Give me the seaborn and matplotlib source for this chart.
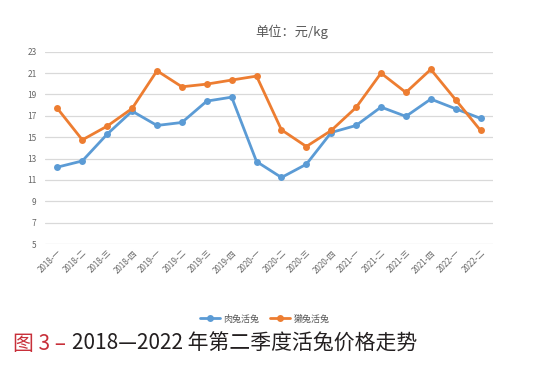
import seaborn as sns
import matplotlib.pyplot as plt
import pandas as pd

quarters = ["2018-一", "2018-二", "2018-三", "2018-四",
            "2019-一", "2019-二", "2019-三", "2019-四",
            "2020-一", "2020-二", "2020-三", "2020-四",
            "2021-一", "2021-二", "2021-三", "2021-四",
            "2022-一", "2022-二"]
meat_rabbit = [12.2, 12.78, 15.29, 17.44, 16.1, 16.38, 18.38, 18.75,
               12.72, 11.23, 12.47, 15.44, 16.1, 17.82, 16.95, 18.57,
               17.66, 16.76]
rex_rabbit = [17.69, 14.75, 16.04, 17.69, 21.22, 19.72, 19.97, 20.35,
              20.72, 15.69, 14.13, 15.63, 17.79, 21.0, 19.19, 21.35,
              18.5, 15.63]
series_names = ["肉兔活兔", "獭兔活兔"]
y_ticks = list(range(5, 24, 2))

df = pd.DataFrame({
    "quarter": quarters * 2,
    "pos": list(range(len(quarters))) * 2,
    "price": meat_rabbit + rex_rabbit,
    "kind": [series_names[0]] * len(quarters) + [series_names[1]] * len(quarters),
})

sns.set_style("white")
plt.rcParams["font.family"] = ["Noto Sans CJK SC", "DejaVu Sans"]

fig = plt.figure(figsize=(5.33, 3.67), dpi=100)
ax = fig.add_axes([0.0844, 0.335, 0.8406, 0.524])

sns.lineplot(data=df, x="pos", y="price", hue="kind",
             palette=["#5b9bd5", "#ed7d31"], marker="o", markersize=5,
             markeredgewidth=0, linewidth=2, ax=ax)

ax.set_xlim(-0.5, len(quarters) - 0.5)
ax.set_ylim(5, 23)
ax.set_yticks(y_ticks)
ax.set_xticks(range(len(quarters)))
ax.set_xticklabels(quarters, rotation=45, ha="right", rotation_mode="anchor",
                   fontsize=5.8, color="#666666")
ax.tick_params(axis="y", labelsize=6, colors="#666666", length=0, pad=6)
ax.tick_params(axis="x", length=0, pad=3)
ax.grid(axis="y", color="#d9d9d9", linewidth=0.9)
ax.set_axisbelow(True)
for s in ax.spines.values():
    s.set_visible(False)
ax.set_xlabel("")
ax.set_ylabel("")

ax.set_title("单位：元/kg", fontsize=9.5, color="#595959", pad=11, x=0.55)

handles, labels = ax.get_legend_handles_labels()
ax.legend_.remove()
fig.legend(handles, labels, loc="center", bbox_to_anchor=(0.497, 0.131),
           ncol=2, frameon=False, fontsize=6.5, labelcolor="#595959",
           handlelength=2.2, columnspacing=1.2, handletextpad=0.4)

# caption: red prefix then black text right after it
red = fig.text(0.024, 0.063, "图 3 –", fontsize=15, color="#c8303a",
               va="center", ha="left")
fig.canvas.draw()
bb = red.get_window_extent().transformed(fig.transFigure.inverted())
fig.text(bb.x1 + 0.012, 0.063, "2018—2022 年第二季度活兔价格走势",
         fontsize=15, color="#231f20", va="center", ha="left")

fig.savefig("out.png", dpi=100)
